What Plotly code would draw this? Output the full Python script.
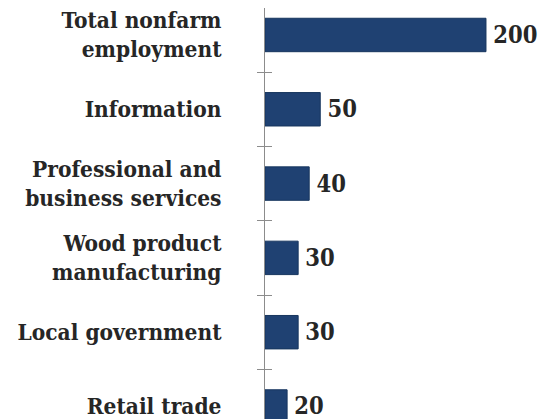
import plotly.graph_objects as go

categories = ["Total nonfarm<br>employment", "Information",
              "Professional and<br>business services", "Wood product<br>manufacturing",
              "Local government", "Retail trade"]
values = [200, 50, 40, 30, 30, 20]

FONT = "DejaVu Serif Condensed"
TXT = "#262626"
FS = 22.5

fig = go.Figure()
fig.add_trace(go.Bar(
    x=values, y=categories, orientation="h",
    marker=dict(color="#1f4172", line=dict(color="#17365e", width=1)),
    width=0.45,
    text=["\u2009" + str(v) for v in values], textposition="outside",
    textfont=dict(family=FONT, size=23.5, color=TXT, weight="bold"),
    cliponaxis=False, hoverinfo="skip", yaxis="y",
))
fig.add_trace(go.Scatter(
    x=values, y=categories, mode="markers", marker=dict(opacity=0),
    yaxis="y2", hoverinfo="skip", showlegend=False,
))

yrange = [5.276, -0.363]
fig.update_layout(
    width=553, height=419,
    margin=dict(l=257, r=0, t=0, b=0, autoexpand=False),
    paper_bgcolor="white", plot_bgcolor="white",
    showlegend=False,
    xaxis=dict(range=[0, 267.9], visible=False, automargin=False),
    yaxis=dict(
        type="category", categoryorder="array", categoryarray=categories,
        range=yrange, showline=True, linecolor="#8c8c8c", linewidth=1,
        ticks="outside", tickson="boundaries", ticklen=7, tickcolor="#8c8c8c",
        tickwidth=1, showgrid=False, zeroline=False, automargin=False,
        tickfont=dict(family=FONT, size=FS, color=TXT, weight="bold"),
        ticklabelstandoff=38,
    ),
    yaxis2=dict(
        type="category", categoryorder="array", categoryarray=categories,
        overlaying="y", side="left", anchor="x", range=yrange,
        ticks="inside", tickson="boundaries", ticklen=7, tickcolor="#8c8c8c",
        tickwidth=1, showticklabels=False, showgrid=False, showline=False,
        zeroline=False, automargin=False,
    ),
)

fig.write_html("out.html")
